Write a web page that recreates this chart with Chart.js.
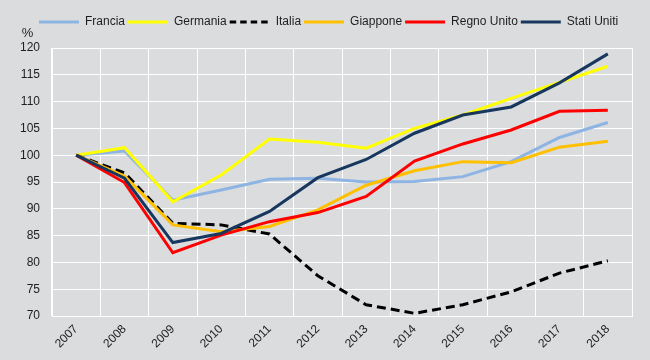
<!DOCTYPE html>
<html>
<head>
<meta charset="utf-8">
<script src="https://cdn.jsdelivr.net/npm/chart.js@4.4.1/dist/chart.umd.min.js"></script>
<style>
  html, body { margin: 0; padding: 0; background: #dadcde; }
  #c { display: block; }
</style>
</head>
<body>
<canvas id="c" width="650" height="360"></canvas>
<script>
const years = ['2007','2008','2009','2010','2011','2012','2013','2014','2015','2016','2017','2018'];
const francia    = [100, 100.8, 91.6, 93.5, 95.5, 95.7, 95.0, 95.1, 96.0, 98.8, 103.3, 106.1];
const germania   = [100, 101.4, 91.3, 96.3, 103.0, 102.4, 101.3, 105.0, 107.5, 110.6, 113.6, 116.6];
const italia     = [100, 96.7, 87.3, 87.0, 85.3, 77.5, 72.1, 70.5, 72.1, 74.5, 78.0, 80.3];
const giappone   = [100, 96.1, 87.0, 85.7, 86.7, 89.8, 94.4, 97.1, 98.8, 98.6, 101.5, 102.6];
const regnoUnito = [100, 94.9, 81.8, 85.1, 87.6, 89.3, 92.3, 98.9, 102.1, 104.7, 108.2, 108.4];
const statiUniti = [100, 95.7, 83.7, 85.4, 89.5, 95.8, 99.2, 104.1, 107.5, 109.0, 113.5, 118.9];
const seriesNames = ['Francia','Germania','Italia','Giappone','Regno Unito','Stati Uniti'];
const yTicks = [70, 75, 80, 85, 90, 95, 100, 105, 110, 115, 120];

const FONT = '"Liberation Sans", Arial, sans-serif';
const BG = '#dadcde';
const TXT = '#1e1e1e';

const colors = ['#8db4e2', '#ffff00', '#000000', '#ffc000', '#ff0000', '#17375e'];
const values = [francia, germania, italia, giappone, regnoUnito, statiUniti];

const datasets = seriesNames.map((name, i) => ({
  label: name,
  data: values[i],
  borderColor: colors[i],
  backgroundColor: colors[i],
  borderWidth: 3,
  borderDash: i === 2 ? [9, 5] : [],
  pointRadius: 0,
  tension: 0,
  fill: false,
  order: 6 - i
}));

const bgPlugin = {
  id: 'bg',
  beforeDraw(chart) {
    const ctx = chart.ctx;
    ctx.save();
    ctx.fillStyle = BG;
    ctx.fillRect(0, 0, chart.width, chart.height);
    ctx.restore();
  },
  afterDraw(chart) {
    const ctx = chart.ctx;
    ctx.save();
    ctx.fillStyle = TXT;
    ctx.font = '13px ' + FONT;
    ctx.textAlign = 'center';
    ctx.textBaseline = 'middle';
    ctx.fillText('%', 27.5, 33);
    ctx.restore();
  }
};

const legendFix = {
  id: 'legendFix',
  beforeLayout(chart) {
    const lg = chart.legend;
    if (lg && !lg._wrapped) {
      const orig = lg.fit;
      lg.fit = function () { orig.call(this); this.height = 35; };
      lg._wrapped = true;
    }
  },
  afterLayout(chart) {
    if (chart.legend) { chart.legend.left = 36; }
  }
};

const defaultGen = Chart.defaults.plugins.legend.labels.generateLabels;

new Chart(document.getElementById('c'), {
  type: 'line',
  data: { labels: years, datasets },
  options: {
    responsive: false,
    animation: false,
    layout: { padding: { left: 0, right: 18, top: 13, bottom: 0 } },
    plugins: {
      legend: {
        position: 'top',
        align: 'start',
        labels: {
          boxWidth: 40,
          boxHeight: 0,
          padding: 3,
          color: TXT,
          font: { family: FONT, size: 12 },
          sort: (a, b) => a.datasetIndex - b.datasetIndex,
          generateLabels(chart) {
            return defaultGen(chart).map(item => {
              if (item.lineDash && item.lineDash.length) { item.lineDash = [6.5, 4]; }
              return item;
            });
          }
        }
      },
      tooltip: { enabled: false }
    },
    scales: {
      x: {
        offset: true,
        grid: { offset: true, color: '#ffffff', lineWidth: 1, drawTicks: false },
        border: { display: true, color: '#ffffff', width: 1 },
        ticks: {
          minRotation: 45, maxRotation: 45,
          padding: 6,
          labelOffset: 0,
          color: TXT,
          font: { family: FONT, size: 12 }
        },
        afterFit(scale) { scale.height = 44; }
      },
      y: {
        min: 70, max: 120,
        afterBuildTicks(scale) { scale.ticks = yTicks.map(v => ({ value: v })); },
        grid: { color: '#ffffff', lineWidth: 1, drawTicks: false },
        border: { display: true, color: '#ffffff', width: 1 },
        ticks: {
          padding: 12,
          color: TXT,
          font: { family: FONT, size: 12 }
        },
        afterFit(scale) { scale.width = 52; }
      }
    }
  },
  plugins: [bgPlugin, legendFix]
});
</script>
</body>
</html>
